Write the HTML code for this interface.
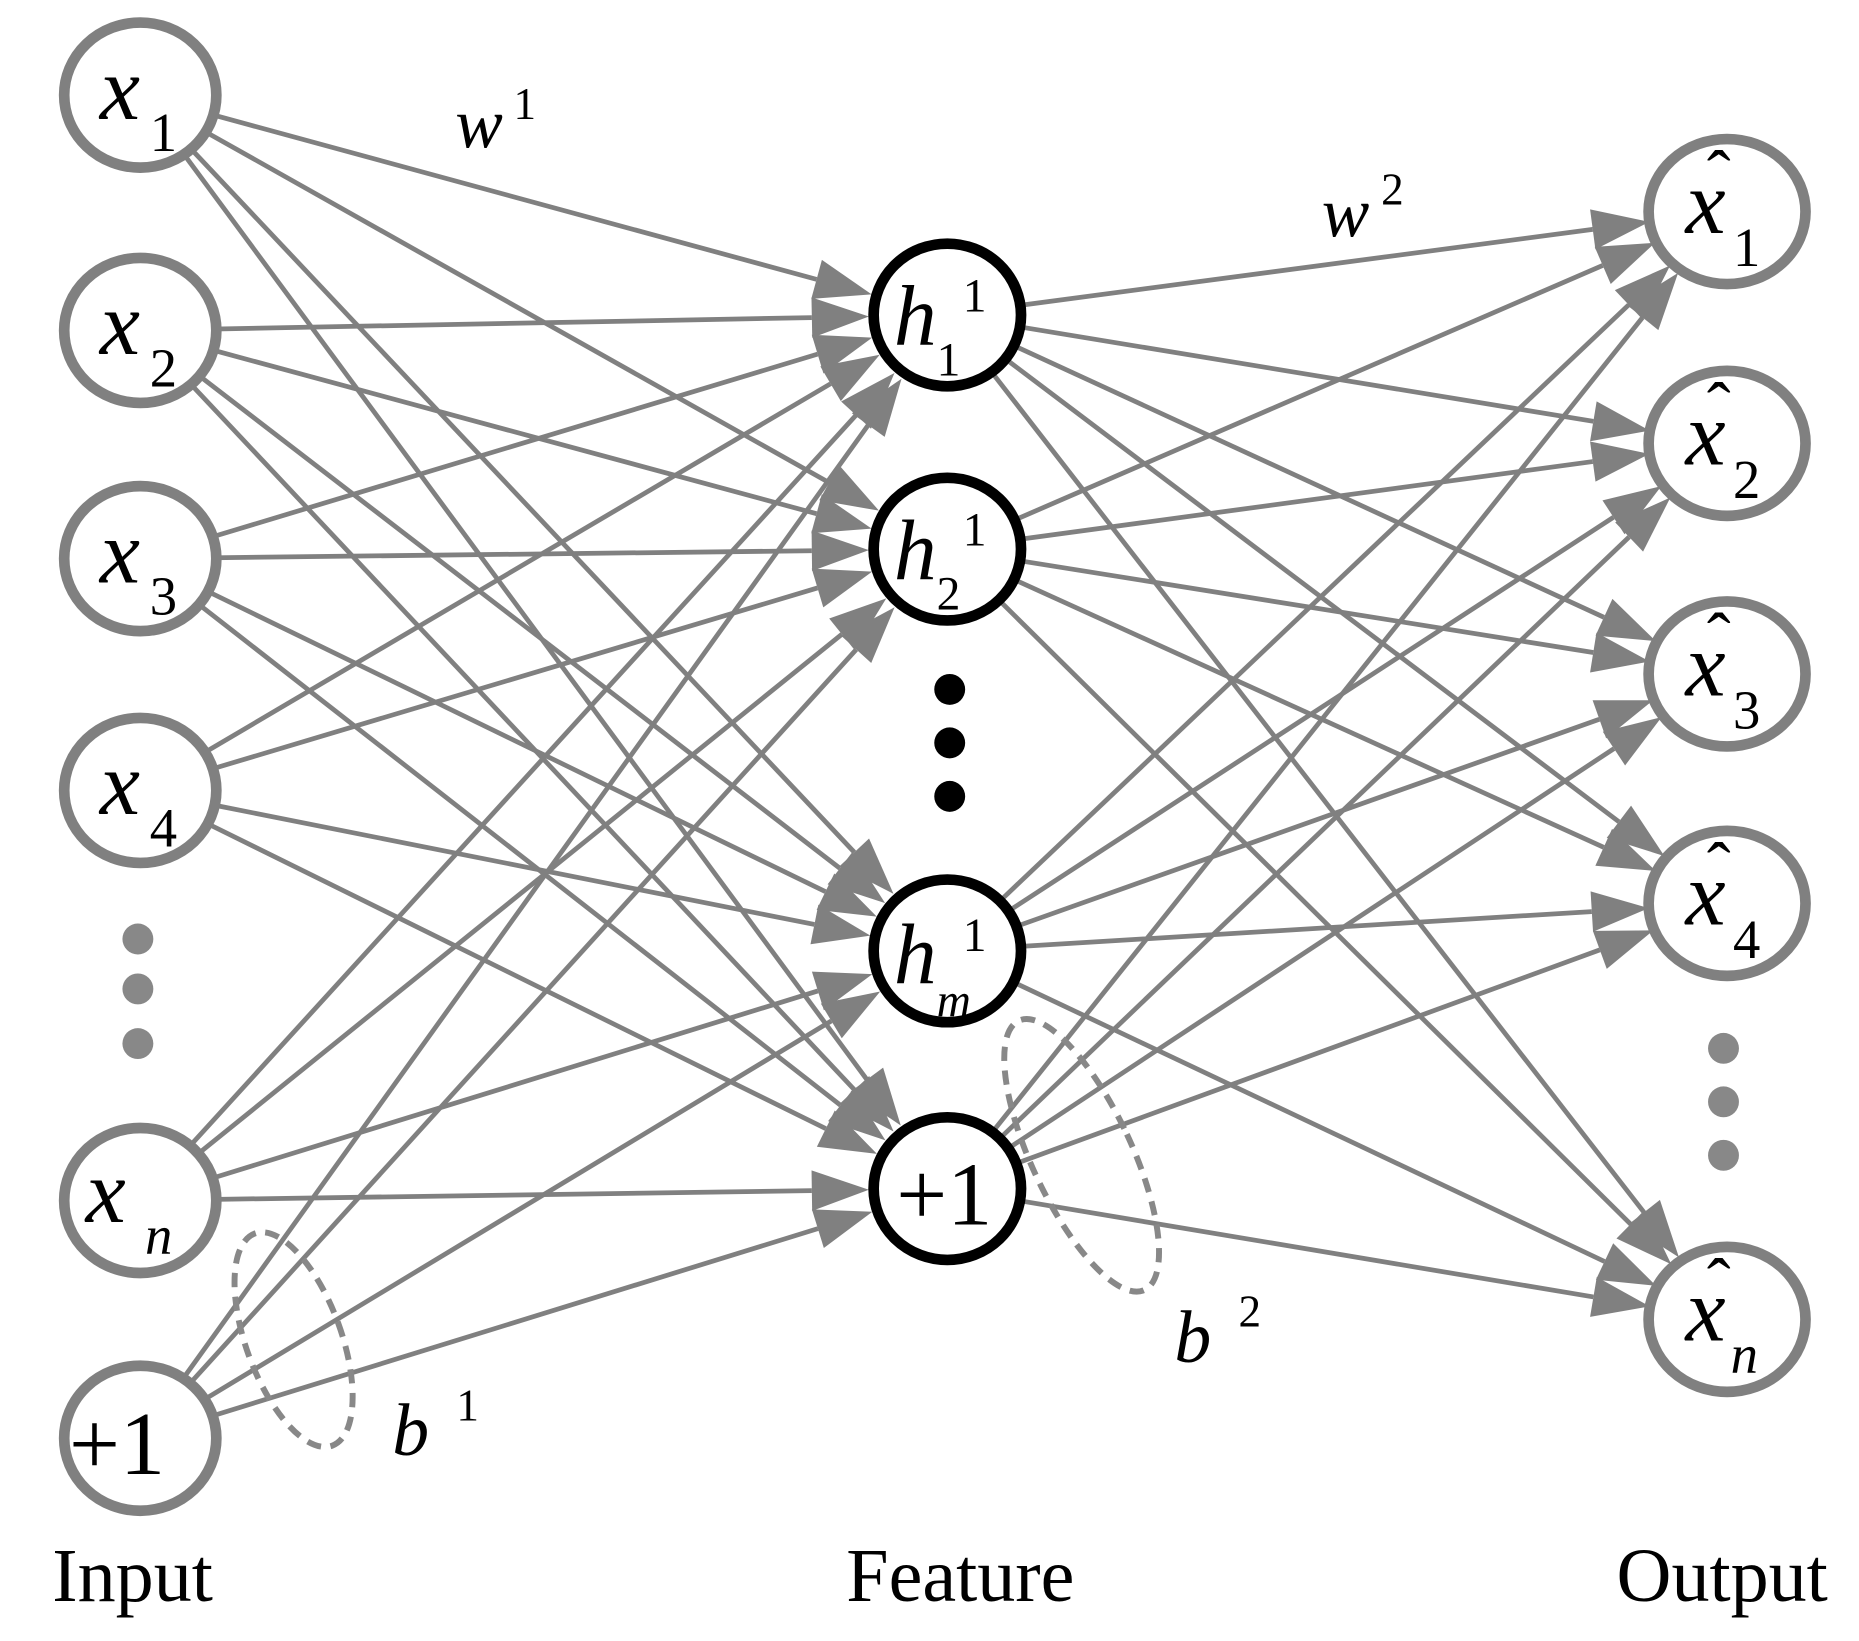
<!DOCTYPE html>
<html><head><meta charset="utf-8"><style>
html,body{margin:0;padding:0;background:#fff}
svg{display:block}
text{font-family:"Liberation Serif","DejaVu Serif",serif}
.v{font-style:italic}
</style></head><body>
<svg id="s" width="1859" height="1641" viewBox="0 0 1564 1380.6" preserveAspectRatio="none" xmlns="http://www.w3.org/2000/svg">
<g id="edges"></g>
<g id="nodes"></g>
<ellipse cx="247" cy="1127" rx="40" ry="95" transform="rotate(-20 247 1127)" fill="none" stroke="#888" stroke-width="5" stroke-dasharray="12 8"/>
<ellipse cx="910" cy="972" rx="42" ry="125" transform="rotate(-25 910 972)" fill="none" stroke="#888" stroke-width="5" stroke-dasharray="12 8"/>
<g fill="#888"><circle cx="116" cy="790" r="13"/><circle cx="116" cy="832" r="13"/><circle cx="116" cy="878" r="13"/>
<circle cx="1450" cy="882" r="13"/><circle cx="1450" cy="927" r="13"/><circle cx="1450" cy="972" r="13"/></g>
<g fill="#000"><circle cx="799" cy="580" r="13"/><circle cx="799" cy="625" r="13"/><circle cx="799" cy="670" r="13"/></g>
<g font-size="76">
<text x="84" y="100" class="v">x</text><text x="126" y="127" font-size="46">1</text>
<text x="84" y="298" class="v">x</text><text x="126" y="325" font-size="46">2</text>
<text x="84" y="490" class="v">x</text><text x="126" y="517" font-size="46">3</text>
<text x="84" y="685" class="v">x</text><text x="126" y="712" font-size="46">4</text>
<text x="72" y="1028" class="v">x</text><text x="122" y="1055" font-size="46" class="v">n</text>
<text x="58" y="1240">+1</text>
<text x="752" y="290" class="v" font-size="72">h</text><text x="788" y="316" font-size="40">1</text><text x="810" y="262" font-size="40">1</text>
<text x="752" y="487" class="v" font-size="72">h</text><text x="788" y="513" font-size="40">2</text><text x="810" y="459" font-size="40">1</text>
<text x="752" y="827" class="v" font-size="72">h</text><text x="788" y="855" font-size="40" class="v">m</text><text x="810" y="800" font-size="40">1</text>
<text x="754" y="1030">+1</text>
<text x="1418" y="196" class="v">x</text><text x="1436" y="168" font-size="60">ˆ</text><text x="1458" y="224" font-size="46">1</text>
<text x="1418" y="391" class="v">x</text><text x="1436" y="363" font-size="60">ˆ</text><text x="1458" y="419" font-size="46">2</text>
<text x="1418" y="585" class="v">x</text><text x="1436" y="557" font-size="60">ˆ</text><text x="1458" y="613" font-size="46">3</text>
<text x="1418" y="778" class="v">x</text><text x="1436" y="750" font-size="60">ˆ</text><text x="1458" y="806" font-size="46">4</text>
<text x="1418" y="1128" class="v">x</text><text x="1436" y="1100" font-size="60">ˆ</text><text x="1456" y="1155" font-size="46" class="v">n</text>
<text x="383" y="124" class="v" font-size="60">w</text><text x="432" y="100" font-size="38">1</text>
<text x="1112" y="199" class="v" font-size="60">w</text><text x="1162" y="172" font-size="38">2</text>
<text x="330" y="1224" class="v" font-size="62">b</text><text x="384" y="1195" font-size="38">1</text>
<text x="988" y="1146" class="v" font-size="62">b</text><text x="1042" y="1116" font-size="38">2</text>
<text x="44" y="1347" font-size="64">Input</text>
<text x="712" y="1347" font-size="64">Feature</text>
<text x="1360" y="1347" font-size="64">Output</text>
</g>
<script>
(function(){
var NS="http://www.w3.org/2000/svg";
var E=document.getElementById("edges"),N=document.getElementById("nodes");
var inp=[80,278,470,665,1010,1210].map(function(y){return [118,y]});
var feat=[265,462,800,1000].map(function(y){return [797,y]});
var out=[178,373,567,760,1110].map(function(y){return [1453,y]});
var R=64;
function el(t,a,p){var e=document.createElementNS(NS,t);for(var k in a)e.setAttribute(k,a[k]);p.appendChild(e);return e;}
function edge(a,b){
 var dx=b[0]-a[0],dy=b[1]-a[1],L=Math.sqrt(dx*dx+dy*dy),ux=dx/L,uy=dy/L;
 var sx=a[0]+ux*R,sy=a[1]+uy*R,ex=b[0]-ux*(R+2),ey=b[1]-uy*(R+2);
 var bx=ex-ux*48,by=ey-uy*48,px=-uy*17,py=ux*17;
 el("line",{x1:sx,y1:sy,x2:bx,y2:by,stroke:"#808080","stroke-width":4},E);
 el("polygon",{points:ex+","+ey+" "+(bx+px)+","+(by+py)+" "+(bx-px)+","+(by-py),fill:"#808080"},E);
}
inp.forEach(function(a){feat.forEach(function(b){edge(a,b)})});
feat.forEach(function(a){out.forEach(function(b){edge(a,b)})});
inp.forEach(function(c){el("ellipse",{cx:c[0],cy:c[1],rx:64,ry:61,fill:"#fff",stroke:"#808080","stroke-width":9},N)});
out.forEach(function(c){el("ellipse",{cx:c[0],cy:c[1],rx:66,ry:61,fill:"#fff",stroke:"#808080","stroke-width":9},N)});
feat.forEach(function(c){el("ellipse",{cx:c[0],cy:c[1],rx:62,ry:60,fill:"#fff",stroke:"#000","stroke-width":9},N)});
})();
</script>
</svg>
</body></html>
